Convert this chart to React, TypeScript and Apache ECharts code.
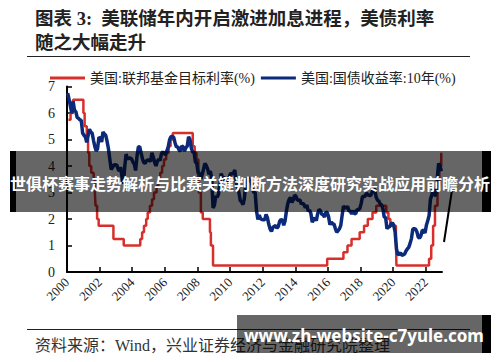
import React, { useEffect, useRef } from "react";
import * as echarts from "echarts";

// US Fed funds target rate (upper bound), change dates and new rates (%)
const fedChangeDates = [
  "2000-02-02", "2000-03-21", "2000-05-16", "2001-01-03", "2001-01-31", "2001-03-20",
  "2001-04-18", "2001-05-15", "2001-06-27", "2001-08-21", "2001-09-17", "2001-10-02",
  "2001-11-06", "2001-12-11", "2002-11-06", "2003-06-25", "2004-06-30", "2004-08-10",
  "2004-09-21", "2004-11-10", "2004-12-14", "2005-02-02", "2005-03-22", "2005-05-03",
  "2005-06-30", "2005-08-09", "2005-09-20", "2005-11-01", "2005-12-13", "2006-01-31",
  "2006-03-28", "2006-05-10", "2006-06-29", "2007-09-18", "2007-10-31", "2007-12-11",
  "2008-01-22", "2008-01-30", "2008-03-18", "2008-04-30", "2008-10-08", "2008-10-29",
  "2008-12-16", "2015-12-17", "2016-12-15", "2017-03-16", "2017-06-15", "2017-12-14",
  "2018-03-22", "2018-06-14", "2018-09-27", "2018-12-20", "2019-08-01", "2019-09-19",
  "2019-10-31", "2020-03-04", "2020-03-16", "2022-03-17", "2022-05-05", "2022-06-16",
  "2022-07-28", "2022-09-22", "2022-11-03", "2022-12-15", "2022-12-30",
];
const fedRates = [
  5.75, 6.0, 6.5, 6.0, 5.5, 5.0,
  4.5, 4.0, 3.75, 3.5, 3.0, 2.5,
  2.0, 1.75, 1.25, 1.0, 1.25, 1.5,
  1.75, 2.0, 2.25, 2.5, 2.75, 3.0,
  3.25, 3.5, 3.75, 4.0, 4.25, 4.5,
  4.75, 5.0, 5.25, 4.75, 4.5, 4.25,
  3.5, 3.0, 2.25, 2.0, 1.5, 1.0,
  0.25, 0.5, 0.75, 1.0, 1.25, 1.5,
  1.75, 2.0, 2.25, 2.5, 2.25, 2.0,
  1.75, 1.25, 0.25, 0.5, 1.0, 1.75,
  2.5, 3.25, 4.0, 4.5, 4.5,
];

// US 10Y Treasury yield, monthly (%), starting Jan 2000
const treasuryStartYear = 2000;
const treasury10y = [
  6.75, 6.52, 6.26, 5.99, 6.44, 6.10, 6.05, 5.83, 5.80, 5.74, 5.72, 5.24,
  5.16, 5.10, 4.89, 5.14, 5.39, 5.28, 5.24, 4.97, 4.73, 4.57, 4.65, 5.09,
  5.04, 4.91, 5.28, 5.21, 5.16, 4.93, 4.65, 4.26, 3.87, 3.94, 4.05, 4.03,
  4.05, 3.90, 3.81, 3.96, 3.57, 3.33, 3.98, 4.45, 4.27, 4.29, 4.30, 4.27,
  4.15, 4.08, 3.83, 4.35, 4.72, 4.73, 4.50, 4.28, 4.13, 4.10, 4.19, 4.23,
  4.22, 4.17, 4.50, 4.34, 4.14, 4.00, 4.18, 4.26, 4.20, 4.46, 4.54, 4.47,
  4.42, 4.57, 4.72, 4.99, 5.11, 5.11, 5.09, 4.88, 4.72, 4.73, 4.60, 4.56,
  4.76, 4.72, 4.56, 4.69, 4.75, 5.10, 5.00, 4.67, 4.52, 4.53, 4.15, 4.10,
  3.74, 3.74, 3.51, 3.68, 3.88, 4.10, 4.01, 3.89, 3.69, 3.81, 3.53, 2.42,
  2.52, 2.87, 2.82, 2.93, 3.29, 3.72, 3.56, 3.59, 3.40, 3.39, 3.40, 3.59,
  3.73, 3.69, 3.73, 3.85, 3.42, 3.20, 3.01, 2.70, 2.65, 2.54, 2.76, 3.29,
  3.39, 3.58, 3.41, 3.46, 3.17, 3.00, 3.00, 2.30, 1.98, 2.15, 2.01, 1.98,
  1.97, 1.97, 2.17, 2.05, 1.80, 1.62, 1.53, 1.68, 1.72, 1.75, 1.65, 1.72,
  1.91, 1.98, 1.96, 1.76, 1.93, 2.30, 2.58, 2.74, 2.81, 2.62, 2.72, 2.90,
  2.86, 2.71, 2.72, 2.71, 2.56, 2.60, 2.54, 2.42, 2.53, 2.30, 2.33, 2.21,
  1.88, 1.98, 2.04, 1.94, 2.20, 2.36, 2.32, 2.17, 2.17, 2.07, 2.26, 2.24,
  2.09, 1.78, 1.89, 1.81, 1.81, 1.64, 1.50, 1.56, 1.63, 1.76, 2.14, 2.49,
  2.43, 2.42, 2.48, 2.30, 2.30, 2.19, 2.32, 2.21, 2.20, 2.36, 2.35, 2.40,
  2.58, 2.86, 2.84, 2.87, 2.98, 2.91, 2.89, 2.89, 3.00, 3.15, 3.12, 2.83,
  2.71, 2.68, 2.57, 2.53, 2.40, 2.07, 2.06, 1.63, 1.70, 1.71, 1.81, 1.86,
  1.76, 1.50, 0.87, 0.66, 0.67, 0.73, 0.62, 0.65, 0.68, 0.79, 0.87, 0.93,
  1.08, 1.26, 1.61, 1.64, 1.62, 1.52, 1.32, 1.28, 1.37, 1.58, 1.56, 1.47,
  1.76, 1.93, 2.13, 2.75, 2.90, 3.14, 2.90, 2.90, 3.52, 4.10, 4.00, 3.80,
];

const xTickYears = [2000, 2002, 2004, 2006, 2008, 2010, 2012, 2014, 2016, 2018, 2020, 2022];
const legendNames = ["美国:联邦基金目标利率(%)", "美国:国债收益率:10年(%)"];
const titleLines = ["图表 3:  美联储年内开启激进加息进程，美债利率", "随之大幅走升"];
const sourceText = "资料来源：Wind，兴业证券经济与金融研究院整理";
const bannerText = "世俱杯赛事走势解析与比赛关键判断方法深度研究实战应用前瞻分析";
const watermarkText = "www.zh-website-c7yule.com";

function toYear(d: string): number {
  const [y, m, dd] = d.split("-").map(Number);
  const start = Date.UTC(y, 0, 1);
  const end = Date.UTC(y + 1, 0, 1);
  const t = Date.UTC(y, m - 1, dd);
  return y + (t - start) / (end - start);
}

const SERIF = "'Liberation Serif', 'Times New Roman', 'Noto Sans CJK SC', serif";
const SANS = "'Noto Sans CJK SC', 'Noto Sans', sans-serif";

export default function App() {
  const ref = useRef<HTMLDivElement>(null);
  useEffect(() => {
    if (!ref.current) return;
    const chart = echarts.init(ref.current, null, { renderer: "svg" });
    const fedData = fedChangeDates.map((d, i) => [toYear(d), fedRates[i]]);
    const tData = treasury10y.map((v, i) => [treasuryStartYear + (i + 0.5) / 12, v]);

    const option: any = {
      animation: false,
      backgroundColor: "#ffffff",
      color: ["#d7302c", "#0b2a7a"],
      legend: {
        data: legendNames,
        left: 50,
        top: 71,
        padding: 0,
        itemGap: 6,
        itemWidth: 35,
        itemHeight: 3,
        icon: "rect",
        textStyle: { fontFamily: SERIF, fontSize: 14, color: "#222" },
      },
      grid: { left: 67, right: 58, top: 86.5, bottom: 90 },
      xAxis: {
        type: "value",
        min: 2000,
        max: 2023,
        splitLine: { show: false },
        axisLine: { show: true, onZero: false, lineStyle: { color: "#000", width: 2 } },
        axisTick: {
          show: true,
          inside: true,
          length: 5,
          customValues: xTickYears,
          lineStyle: { color: "#000", width: 1.5 },
        },
        axisLabel: {
          rotate: 45,
          margin: 8,
          customValues: xTickYears,
          fontFamily: SERIF,
          fontSize: 13,
          color: "#222",
          formatter: (v: number) => (xTickYears.indexOf(Math.round(v)) >= 0 ? String(Math.round(v)) : ""),
        },
      },
      yAxis: {
        type: "value",
        min: 0,
        max: 7,
        interval: 1,
        splitLine: { show: false },
        axisLine: { show: true, lineStyle: { color: "#000", width: 2 } },
        axisTick: { show: true, inside: true, length: 5, lineStyle: { color: "#000", width: 1.5 } },
        axisLabel: { margin: 12, fontFamily: SERIF, fontSize: 14, color: "#222" },
      },
      series: [
        {
          name: legendNames[0],
          type: "line",
          step: "end",
          data: fedData,
          showSymbol: false,
          lineStyle: { color: "#d7302c", width: 2.5 },
          z: 2,
        },
        {
          name: legendNames[1],
          type: "line",
          data: tData,
          showSymbol: false,
          lineStyle: { color: "#0b2a7a", width: 3.5 },
          z: 3,
        },
      ],
      graphic: [
        {
          type: "text", x: 35, y: 19, z: 50,
          style: { text: titleLines[0], fontFamily: SERIF, fontSize: 18.5, fontWeight: "bold", fill: "#222", textVerticalAlign: "middle" },
        },
        {
          type: "text", x: 35, y: 43, z: 50,
          style: { text: titleLines[1], fontFamily: SERIF, fontSize: 18.5, fontWeight: "bold", fill: "#222", textVerticalAlign: "middle" },
        },
        { type: "line", z: 50, shape: { x1: 27, y1: 56.5, x2: 470, y2: 56.5 }, style: { stroke: "#222", lineWidth: 1 } },
        { type: "line", z: 50, shape: { x1: 27, y1: 329.5, x2: 470, y2: 329.5 }, style: { stroke: "#222", lineWidth: 1 } },
        {
          type: "text", x: 35, y: 345, z: 50,
          style: { text: sourceText, fontFamily: SERIF, fontSize: 16, fill: "#333", textVerticalAlign: "middle" },
        },
        { type: "line", z: 60, shape: { x1: 444, y1: 242, x2: 452, y2: 190 }, style: { stroke: "#000", lineWidth: 2 } },
        // banner overlay
        { type: "rect", z: 100, shape: { x: 16, y: 151, width: 466, height: 61 }, style: { fill: "rgba(0,0,0,0.6)" } },
        { type: "rect", z: 100, shape: { x: 10, y: 151, width: 6, height: 61 }, style: { fill: "#000" } },
        { type: "rect", z: 100, shape: { x: 482, y: 151, width: 9, height: 61 }, style: { fill: "#000" } },
        {
          type: "text", x: 250, y: 183, z: 101,
          style: { text: bannerText, fontFamily: SANS, fontSize: 16, fontWeight: "bold", fill: "#fff", textAlign: "center", textVerticalAlign: "middle" },
        },
        // watermark overlay
        { type: "rect", z: 100, shape: { x: 237, y: 315, width: 245, height: 38 }, style: { fill: "rgba(0,0,0,0.6)" } },
        { type: "rect", z: 100, shape: { x: 482, y: 315, width: 9, height: 38 }, style: { fill: "#000" } },
        {
          type: "text", x: 364, y: 335, z: 101,
          style: { text: watermarkText, fontFamily: "'Noto Sans', 'DejaVu Sans', sans-serif", fontSize: 17, fontWeight: "bold", fill: "#fff", textAlign: "center", textVerticalAlign: "middle" },
        },
      ],
    };
    chart.setOption(option);
    return () => chart.dispose();
  }, []);
  return <div ref={ref} style={{ position: "absolute", left: 0, top: 0, width: 500, height: 362 }} />;
}
